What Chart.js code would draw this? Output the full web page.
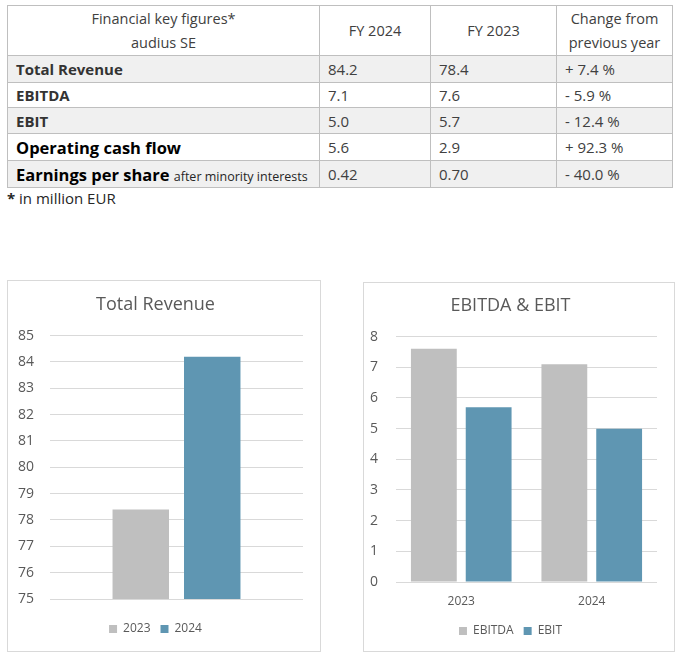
<!DOCTYPE html>
<html>
<head>
<meta charset="utf-8">
<script src="https://cdn.jsdelivr.net/npm/chart.js@4.4.1/dist/chart.umd.min.js"></script>
<style>
  body { margin: 0; background: #fff; font-family: "Open Sans", "Noto Sans", sans-serif; color: #404040; }
  #kpi { position: absolute; left: 7px; top: 5px; border-collapse: collapse; font-size: 15px; }
  #kpi td, #kpi th { border: 1px solid #bfbfbf; padding: 0 8px; white-space: nowrap; }
  #kpi th { font-weight: normal; text-align: center; height: 49px; line-height: 24px; font-size: 14.5px; }
  #kpi tr.alt td { background: #f0f0f0; }
  #kpi td.lbl { font-weight: bold; color: #333; font-size: 15px; }
  #kpi td.big { font-size: 16.5px; color: #000; }
  #kpi td.big small { font-size: 12.5px; font-weight: normal; color: #262626; }
  #note { position: absolute; left: 7px; top: 188px; font-size: 15px; color: #262626; }
  .box { position: absolute; border: 1px solid #d9d9d9; box-sizing: border-box; }
  .box canvas { position: absolute; left: 0; top: 0; }
</style>
</head>
<body>
<table id="kpi"></table>
<div id="note"><b>*</b> in million EUR</div>
<div class="box" style="left:7px;top:280px;width:314px;height:372px;"><canvas id="revChart" width="312" height="370"></canvas></div>
<div class="box" style="left:363px;top:282px;width:312px;height:370px;"><canvas id="ebitChart" width="310" height="368"></canvas></div>
<script>
// table figures
const rowLabels = ['Total Revenue', 'EBITDA', 'EBIT', 'Operating cash flow', 'Earnings per share'];
const fy2024 = ['84.2', '7.1', '5.0', '5.6', '0.42'];
const fy2023 = ['78.4', '7.6', '5.7', '2.9', '0.70'];
const changes = ['+ 7.4 %', '- 5.9 %', '- 12.4 %', '+ 92.3 %', '- 40.0 %'];

// chart data
const years = ['2023', '2024'];
const revenue = [78.4, 84.2];
const ebitda = [7.6, 7.1];
const ebit = [5.7, 5.0];

const grey = '#bfbfbf';
const blue = '#5f96b2';
const textCol = '#595959';
const gridCol = '#d9d9d9';
const rowHeights = [27, 25, 26, 27, 27];

// build table
const table = document.getElementById('kpi');
let html = '<tr><th style="width:295px">Financial key figures*<br>audius SE</th>' +
  '<th style="width:94px">FY 2024</th><th style="width:109px">FY 2023</th>' +
  '<th style="width:99px">Change from<br>previous year</th></tr>';
rowLabels.forEach((label, i) => {
  let cls = 'lbl';
  let text = label;
  if (i >= 3) cls += ' big';
  if (i == 4) text += ' <small>after minority interests</small>';
  html += '<tr class="' + (i % 2 == 0 ? 'alt' : '') + '" style="height:' + rowHeights[i] + 'px">' +
    '<td class="' + cls + '">' + text + '</td><td>' + fy2024[i] + '</td><td>' +
    fy2023[i] + '</td><td>' + changes[i] + '</td></tr>';
});
table.innerHTML = html;

Chart.defaults.font.family = '"Open Sans", "Noto Sans", sans-serif';
Chart.defaults.color = textCol;

new Chart(document.getElementById('revChart'), {
  type: 'bar',
  data: {
    labels: [''],
    datasets: [
      { label: years[0], data: [revenue[0]], backgroundColor: grey },
      { label: years[1], data: [revenue[1]], backgroundColor: blue }
    ]
  },
  options: {
    responsive: false,
    animation: false,
    categoryPercentage: 0.565,
    barPercentage: 0.79,
    layout: { padding: { left: 0, right: 17, top: 0, bottom: 6 } },
    plugins: {
      title: { display: true, text: 'Total Revenue', color: textCol, font: { size: 18, weight: 'normal' }, padding: { top: 13, bottom: 20 } },
      legend: { position: 'bottom', labels: { boxWidth: 8, boxHeight: 8, padding: 10, font: { size: 12 } } },
      tooltip: { enabled: false }
    },
    scales: {
      x: {
        grid: { display: false },
        border: { display: false },
        ticks: { display: false },
        afterFit: (scale) => { scale.height = 14; }
      },
      y: {
        min: 75,
        max: 85,
        ticks: { stepSize: 1, padding: 16, font: { size: 14 } },
        grid: { color: gridCol, drawTicks: false },
        border: { display: false },
        afterFit: (scale) => { scale.width = 42; }
      }
    }
  }
});

new Chart(document.getElementById('ebitChart'), {
  type: 'bar',
  data: {
    labels: years,
    datasets: [
      { label: 'EBITDA', data: ebitda, backgroundColor: grey },
      { label: 'EBIT', data: ebit, backgroundColor: blue }
    ]
  },
  options: {
    responsive: false,
    animation: false,
    categoryPercentage: 0.84,
    barPercentage: 0.836,
    layout: { padding: { left: 0, right: 17, top: 0, bottom: 4 } },
    plugins: {
      title: { display: true, text: 'EBITDA & EBIT', color: textCol, font: { size: 18, weight: 'normal' }, padding: { top: 12, bottom: 20 } },
      legend: { position: 'bottom', labels: { boxWidth: 8, boxHeight: 8, padding: 10, font: { size: 12 } } },
      tooltip: { enabled: false }
    },
    scales: {
      x: {
        grid: { display: false },
        border: { display: false },
        ticks: { padding: 4, font: { size: 12 } },
        afterFit: (scale) => { scale.height = 33; }
      },
      y: {
        min: 0,
        max: 8,
        ticks: { stepSize: 1, padding: 18, font: { size: 14 } },
        grid: { color: gridCol, drawTicks: false },
        border: { display: false },
        afterFit: (scale) => { scale.width = 32; }
      }
    }
  }
});
</script>
</body>
</html>
